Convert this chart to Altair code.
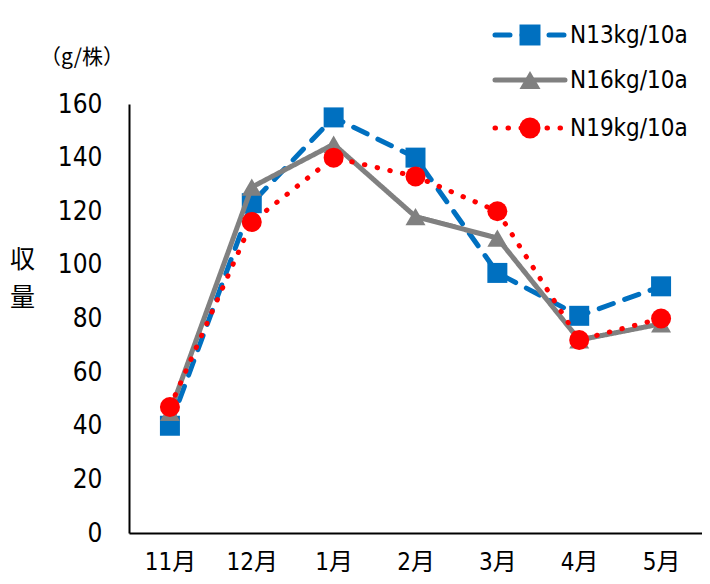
import altair as alt
import pandas as pd

months = ["11月", "12月", "1月", "2月", "3月", "4月", "5月"]
series = ["N13kg/10a", "N16kg/10a", "N19kg/10a"]
n13 = [40, 123, 155, 140, 97, 81, 92]
n16 = [45, 129, 145, 118, 110, 72, 78]
n19 = [47, 116, 140, 133, 120, 72, 80]
colors = ["#0070C0", "#808080", "#FF0000"]
dashes = [[15, 12], [1, 0], [0.5, 12.5]]
shapes = ["square", "triangle-up", "circle"]
y_ticks = [0, 20, 40, 60, 80, 100, 120, 140, 160]

rows = []
for s, vals in zip(series, [n13, n16, n19]):
    for m, v in zip(months, vals):
        rows.append({"month": m, "series": s, "value": v})
df = pd.DataFrame(rows)

FONT = "DejaVu Sans Condensed, Noto Sans CJK JP, sans-serif"
CJK = "Noto Sans CJK JP"
W, H = 573, 429

x_enc = alt.X("month:O", sort=months,
              scale=alt.Scale(type="point", padding=0.5),
              axis=alt.Axis(title=None, labelAngle=0, labelFontSize=24, labelFont=FONT,
                            labelColor="black", ticks=False, domainColor="black",
                            domainWidth=2, labelPadding=17, grid=False))
y_enc = alt.Y("value:Q", scale=alt.Scale(domain=[0, 160], nice=False),
              axis=alt.Axis(title=["収", "量"], titleAngle=0, titleFontSize=25,
                            titleFont=CJK, titleFontWeight="normal",
                            titleColor="black", titleX=-107, titleY=155,
                            titleAlign="center", titleBaseline="middle",
                            titleLineHeight=38,
                            values=y_ticks, labelFontSize=26, labelFont=FONT,
                            labelColor="black", ticks=False, domainColor="black",
                            domainWidth=2, labelPadding=27, grid=False))

layers = []
for i, s in enumerate(series):
    sub = df[df.series == s]
    base = alt.Chart(sub)
    line = base.mark_line(color=colors[i], strokeWidth=5, strokeDash=dashes[i],
                          strokeCap="round", strokeJoin="round").encode(x=x_enc, y=y_enc)
    pts = base.mark_point(shape=shapes[i], filled=True, opacity=1, color=colors[i],
                          size=400).encode(x=x_enc, y=y_enc)
    layers += [line, pts]

# legend
leg_y = [-69, -24, 24]
for i, s in enumerate(series):
    d = pd.DataFrame({"label": [s]})
    b = alt.Chart(d)
    layers.append(b.mark_rule(color=colors[i], strokeWidth=5, strokeDash=dashes[i],
                              strokeCap="round").encode(
        x=alt.value(366), x2=alt.value(436), y=alt.value(leg_y[i])))
    layers.append(b.mark_point(shape=shapes[i], filled=True, opacity=1, color=colors[i],
                               size=440).encode(x=alt.value(401), y=alt.value(leg_y[i])))
    layers.append(b.mark_text(align="left", baseline="middle", fontSize=24, font=FONT,
                              color="black").encode(
        x=alt.value(441), y=alt.value(leg_y[i] + 1), text="label:N"))

unit = alt.Chart(pd.DataFrame({"t": ["（g/株）"]})).mark_text(
    fontSize=21, font=CJK, color="black", align="center",
    baseline="middle").encode(x=alt.value(-47), y=alt.value(-46), text="t:N")
layers.append(unit)

chart = alt.layer(*layers).properties(
    width=W, height=H,
    autosize=alt.AutoSizeParams(type="none"),
    padding={"left": 121, "top": 96, "right": 0, "bottom": 43},
).configure_view(stroke=None)

chart.save("out.html", embed_options={"renderer": "svg", "actions": False})
